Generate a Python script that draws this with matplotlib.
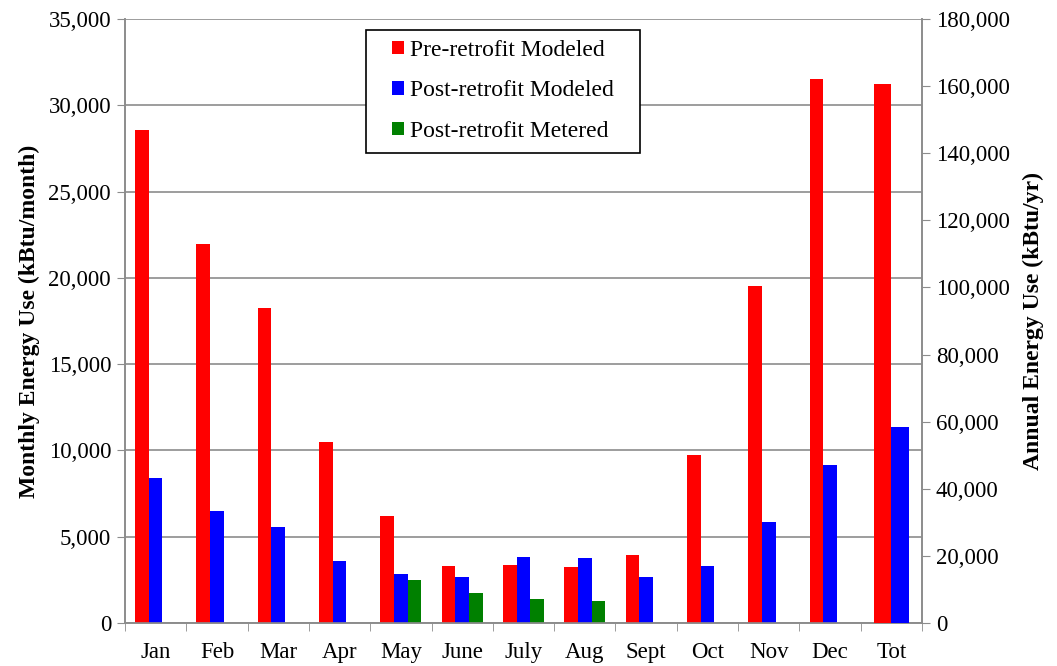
import matplotlib
matplotlib.use("Agg")
import matplotlib.pyplot as plt
import numpy as np
from matplotlib.patches import Rectangle
from matplotlib.ticker import FuncFormatter, MultipleLocator

months = ["Jan", "Feb", "Mar", "Apr", "May", "June", "July", "Aug", "Sept", "Oct", "Nov", "Dec"]
pre_modeled = [28560, 21960, 18270, 10490, 6200, 3290, 3340, 3260, 3920, 9730, 19500, 31540]
post_modeled = [8400, 6490, 5560, 3570, 2840, 2670, 3830, 3750, 2650, 3300, 5850, 9150]
post_metered = [0, 0, 0, 0, 2490, 1720, 1390, 1275, 0, 0, 0, 0]

total_label = "Tot"
total_pre = 160600
total_post = 58400

plt.rcParams['font.family'] = ['Liberation Serif', 'DejaVu Serif']

W, H = 1057, 666
fig = plt.figure(figsize=(W / 100, H / 100), dpi=100)
ax = fig.add_axes([125 / W, 1 - 623 / H, (922 - 125) / W, (623 - 19) / H])
ax2 = ax.twinx()

red, blue, green = "#ff0000", "#0000ff", "#008000"
gray = "#8c8c8c"

x = np.arange(len(months))
w = 0.223
b1 = ax.bar(x - w, pre_modeled, w, color=red, zorder=3, label="Pre-retrofit Modeled")
b2 = ax.bar(x, post_modeled, w, color=blue, zorder=3, label="Post-retrofit Modeled")
b3 = ax.bar(x + w, post_metered, w, color=green, zorder=3, label="Post-retrofit Metered")

tw = 0.29
xt = len(months)
ax2.bar(xt - tw / 2, total_pre, tw, color=red, zorder=3)
ax2.bar(xt + tw / 2, total_post, tw, color=blue, zorder=3)

ax.set_xlim(-0.5, len(months) + 0.5)
ax.set_ylim(0, 35000)
ax2.set_ylim(0, 180000)
ax.yaxis.set_major_locator(MultipleLocator(5000))
ax2.yaxis.set_major_locator(MultipleLocator(20000))
fmt = FuncFormatter(lambda v, p: f"{int(v):,}")
ax.yaxis.set_major_formatter(fmt)
ax2.yaxis.set_major_formatter(fmt)

ax.set_xticks(list(x) + [xt])
ax.set_xticklabels(months + [total_label], fontsize=16.5)
ax.set_xticks(np.arange(-0.5, len(months) + 1, 1.0), minor=True)
ax.tick_params(axis='x', which='major', length=0, pad=14)
ax.tick_params(axis='x', which='minor', length=6, color=gray, direction='out')
ax.tick_params(axis='y', length=6, color=gray, labelsize=16.5, pad=4)
ax2.tick_params(axis='y', length=6, color=gray, labelsize=16.5, pad=4)

ax.grid(axis='y', color=gray, linewidth=1.2, zorder=0)
ax.set_axisbelow(True)
for a in (ax, ax2):
    a.spines['top'].set_visible(False)
    for s in ('left', 'right', 'bottom'):
        a.spines[s].set_color(gray)
        a.spines[s].set_linewidth(1.2)

ax.set_ylabel("Monthly Energy Use (kBtu/month)", fontsize=17, fontweight='bold', labelpad=6)
ax2.set_ylabel("Annual Energy Use (kBtu/yr)", fontsize=17, fontweight='bold', labelpad=9)

# legend box drawn separately, entries placed inside
fig.patches.append(Rectangle((366 / W, 1 - 153 / H), (640 - 366) / W, (153 - 30) / H,
                             transform=fig.transFigure, facecolor='white',
                             edgecolor='black', linewidth=1.2, zorder=5))
leg = fig.legend(handles=[b1, b2, b3], loc='center left', bbox_to_anchor=(392 / W, 1 - 91 / H),
                 fontsize=17, frameon=False, handlelength=0.5, handleheight=0.5,
                 handletextpad=0.25, labelspacing=0.82, borderpad=0, borderaxespad=0)
leg.set_zorder(6)

fig.savefig("out.png", dpi=100)
